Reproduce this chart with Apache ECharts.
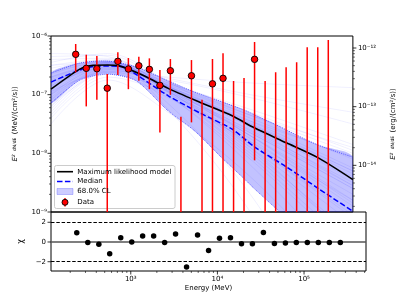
<!DOCTYPE html>
<html><head><meta charset="utf-8">
<script src="https://cdn.jsdelivr.net/npm/echarts@6/dist/echarts.min.js"></script>
<style>html,body{margin:0;padding:0;background:#fff}#c{width:407px;height:305px}</style>
</head><body><div id="c"></div>
<script>
// ---------- data ----------
const energies = [238, 319, 428, 571, 766, 1026, 1371, 1837, 2460, 3289, 4406, 5902, 7907, 10570, 14160, 18970, 25350, 33960, 45500, 60950, 81470, 109100, 146200, 195900, 262400];
// flux points (null = no point drawn, only the bar)
const flux = [4.87e-7, 2.81e-7, 2.77e-7, 1.29e-7, 3.70e-7, 2.74e-7, 3.11e-7, 2.70e-7, 1.44e-7, 2.56e-7, null, 2.10e-7, null, 1.53e-7, 1.90e-7, null, null, 4.0e-7, null, null, null, null, null, null, null];
const fluxHigh = [7.3e-7, 4.80e-7, 4.56e-7, 2.24e-7, 5.27e-7, 4.21e-7, 4.44e-7, 4.16e-7, 2.63e-7, 4.05e-7, 4.19e-8, 3.89e-7, 8.17e-8, 4.05e-7, 5.07e-7, 1.71e-7, 1.92e-7, 7.9e-7, 1.71e-7, 2.40e-7, 2.92e-7, 3.56e-7, 6.41e-7, 6.41e-7, 8.54e-7];
// 1e-12 = bar continues below the plotted range
const fluxLow = [2.40e-7, 6.31e-8, 8.17e-8, 1e-12, 2.16e-7, 1.24e-7, 1.73e-7, 1.24e-7, 2.27e-8, 9.95e-8, 1e-12, 3.37e-8, 1e-12, 1e-12, 1e-12, 1e-12, 1e-12, 7.6e-9, 1e-12, 1e-12, 1e-12, 1e-12, 1e-12, 1e-12, 1e-12];
const residuals = [0.93, -0.05, -0.22, -1.2, 0.42, 0.0, 0.6, 0.6, -0.05, 0.8, -2.53, 0.7, -0.86, 0.39, 0.42, -0.19, -0.19, 0.97, -0.15, -0.09, -0.05, -0.05, -0.05, -0.05, -0.05];

// maximum likelihood model
const mlE = [120, 267, 387, 577, 773, 1585, 3097, 7534, 18240, 33810, 82220, 199100, 519000];
const mlF = [1.24e-7, 2.73e-7, 3.16e-7, 3.20e-7, 3.13e-7, 2.10e-7, 1.28e-7, 7.38e-8, 4.36e-8, 2.72e-8, 1.51e-8, 8.36e-9, 3.57e-9];
// median
const medE = [120, 267, 447, 859, 1280, 3097, 7534, 18240, 33810, 82220, 199100, 519000];
const medF = [1.64e-7, 2.63e-7, 3.08e-7, 3.02e-7, 2.2e-7, 9.57e-8, 4.84e-8, 2.58e-8, 1.29e-8, 5.86e-9, 2.51e-9, 1.03e-9];
// 68% CL band
const bandE = [120, 267, 577, 1280, 3080, 6300, 14000, 25800, 33600, 68700, 83000, 199000, 519000];
const bandHi = [2.33e-7, 3.46e-7, 3.74e-7, 2.96e-7, 1.73e-7, 1.12e-7, 7.47e-8, 5.45e-8, 4.57e-8, 2.85e-8, 2.48e-8, 1.38e-8, 8.59e-9];
const bandLo = [7.18e-8, 1.77e-7, 2.24e-7, 1.71e-7, 5.31e-8, 2.48e-8, 8.16e-9, 3.62e-9, 2.51e-9, 1.0e-9, 8.13e-10, 3.56e-10, 1.38e-10];
// thin sample curves: log10 flux at sampleE
const sampleE = [120, 577, 3080, 30200, 519000];
const sampleLogFlux = [
 [-6.70,-6.45,-6.85,-7.50,-8.30],[-6.95,-6.50,-6.90,-7.70,-8.80],[-6.60,-6.42,-6.95,-7.90,-9.20],
 [-7.10,-6.55,-6.80,-7.30,-7.95],[-6.85,-6.47,-6.92,-7.80,-9.00],[-6.50,-6.40,-6.88,-7.75,-8.90],
 [-7.25,-6.58,-6.84,-7.40,-8.10],[-6.75,-6.46,-6.97,-8.05,-9.60],[-6.98,-6.52,-6.86,-7.45,-8.25],
 [-6.40,-6.38,-6.93,-7.95,-9.40],[-7.05,-6.53,-6.83,-7.35,-7.90],[-6.80,-6.44,-6.90,-7.65,-8.60],
 [-7.30,-6.60,-6.95,-7.60,-8.50],[-6.65,-6.43,-7.00,-8.20,-10.0],[-6.90,-6.49,-6.87,-7.55,-8.40],
 [-6.30,-6.35,-6.90,-7.90,-9.50],[-7.15,-6.56,-6.82,-7.25,-7.85],[-6.88,-6.48,-6.94,-7.85,-9.10],
 [-6.72,-6.47,-6.91,-7.70,-8.70],[-7.00,-6.51,-6.88,-7.50,-8.35],[-6.55,-6.41,-6.96,-8.00,-9.45],
 [-7.20,-6.57,-6.86,-7.48,-8.30],[-6.82,-6.46,-6.89,-7.62,-8.55],[-6.95,-6.62,-7.05,-7.80,-8.80],
 [-6.45,-6.30,-6.78,-7.55,-8.55],[-7.35,-6.65,-6.92,-7.45,-8.05],[-6.78,-6.50,-7.02,-8.10,-9.70],
 [-6.92,-6.45,-6.80,-7.35,-8.00],[-6.62,-6.44,-6.94,-7.85,-9.05],[-7.08,-6.54,-6.87,-7.52,-8.45],
 [-6.35,-6.33,-6.85,-7.70,-8.85],[-7.40,-6.70,-7.00,-7.65,-8.60],[-7.00,-6.60,-6.70,-6.80,-6.88],
 [-6.85,-6.52,-6.72,-7.00,-7.30],[-7.20,-6.62,-6.75,-7.05,-7.50],[-6.70,-6.48,-7.15,-8.70,-11.5],
 [-6.50,-6.45,-7.25,-9.00,-12.0],[-7.50,-6.75,-7.30,-8.40,-10.2]
];
// axis ranges & ticks
const xMin = 120, xMax = 519000;
const yMin = 1e-9, yMax = 1e-6;
const MEV_TO_ERG = 1.602176634e-6;
const chiMin = -2.94, chiMax = 3.04;
const xMajorTicks = [1000, 10000, 100000];
const xMinorTicks = [200,300,400,500,600,700,800,900,2000,3000,4000,5000,6000,7000,8000,9000,20000,30000,40000,50000,60000,70000,80000,90000,200000,300000,400000,500000];
const yMajorTicks = [1e-9, 1e-8, 1e-7, 1e-6];
const yMinorTicks = [2e-9,3e-9,4e-9,5e-9,6e-9,7e-9,8e-9,9e-9,2e-8,3e-8,4e-8,5e-8,6e-8,7e-8,8e-8,9e-8,2e-7,3e-7,4e-7,5e-7,6e-7,7e-7,8e-7,9e-7];
const ergMajorTicks = [1e-14, 1e-13, 1e-12];
const ergMinorTicks = [2e-15,3e-15,4e-15,5e-15,6e-15,7e-15,8e-15,9e-15,2e-14,3e-14,4e-14,5e-14,6e-14,7e-14,8e-14,9e-14,2e-13,3e-13,4e-13,5e-13,6e-13,7e-13,8e-13,9e-13];
const chiTicks = [-2, 0, 2];

// ---------- chart ----------
const FONT = 'DejaVu Sans';
const SUP = '⁰¹²³⁴⁵⁶⁷⁸⁹';
function sup(n){ return String(n).replace(/-/g,'⁻').replace(/\d/g, d => SUP[+d]); }
function logFmt(v){ return '10' + sup(Math.round(Math.log10(v))); }
const labelStyle = {fontFamily: FONT, fontSize: 7, color: '#000'};

const chart = echarts.init(document.getElementById('c'), null, {renderer: 'canvas'});

const series = [];
sampleLogFlux.forEach((row) => {
  series.push({type:'line', xAxisIndex:0, yAxisIndex:0, silent:true, z:1,
    data: sampleE.map((e,i)=>[e, Math.pow(10, row[i])]), showSymbol:false, smooth:0.35,
    lineStyle:{color:'rgba(0,0,255,0.11)', width:0.6}});
});
// 68% CL band as a polygon between the upper and lower bounds
series.push({type:'custom', name:'68.0% CL', xAxisIndex:0, yAxisIndex:0, silent:true, z:2, clip:true,
  data: bandE.map((e,i)=>[e, bandLo[i], bandHi[i]]),
  renderItem(params, api){
    if (params.dataIndex !== 0) return null;
    const up = bandE.map((e,i)=>api.coord([e, bandHi[i]]));
    const lo = bandE.map((e,i)=>api.coord([e, bandLo[i]]));
    const poly = up.concat(lo.slice().reverse());
    return {type:'group', children:[
      {type:'polygon', shape:{points:poly, smooth:0.25}, style:{fill:'rgba(0,0,255,0.24)'}},
      {type:'polyline', shape:{points:up, smooth:0.25}, style:{stroke:'rgba(0,0,255,0.7)', lineWidth:0.8, lineDash:[1,1], fill:null}},
      {type:'polyline', shape:{points:lo, smooth:0.25}, style:{stroke:'rgba(0,0,255,0.7)', lineWidth:0.8, lineDash:[1,1], fill:null}}
    ]};
  }});
series.push({type:'line', name:'Median', xAxisIndex:0, yAxisIndex:0, silent:true, z:3,
  data: medE.map((e,i)=>[e, medF[i]]), showSymbol:false, smooth:0.25,
  lineStyle:{color:'#0000ff', width:1.5, type:[5.5,2.4]}});
series.push({type:'line', name:'Maximum likelihood model', xAxisIndex:0, yAxisIndex:0, silent:true, z:4,
  data: mlE.map((e,i)=>[e, mlF[i]]), showSymbol:false, smooth:0.25,
  lineStyle:{color:'#000', width:1.6}});
// error bars
series.push({type:'custom', xAxisIndex:0, yAxisIndex:0, silent:true, z:5, clip:true,
  data: energies.map((e,i)=>[e, fluxLow[i], fluxHigh[i]]),
  renderItem(params, api){
    const p1 = api.coord([api.value(0), api.value(1)]);
    const p2 = api.coord([api.value(0), api.value(2)]);
    return {type:'line', shape:{x1:p1[0], y1:p1[1], x2:p2[0], y2:p2[1]}, style:{stroke:'#ff0000', lineWidth:1.5}};
  }});
series.push({type:'scatter', name:'Data', xAxisIndex:0, yAxisIndex:0, silent:true, z:6,
  data: energies.map((e,i)=>[e, flux[i]]).filter(d => d[1] !== null),
  symbol:'circle', symbolSize:6.5, itemStyle:{color:'#ff0000', borderColor:'#000', borderWidth:0.9, opacity:1}});
// residuals
series.push({type:'line', xAxisIndex:1, yAxisIndex:2, silent:true, z:1, data:[],
  markLine:{silent:true, symbol:'none', label:{show:false}, animation:false,
    data:[
      {yAxis:2, lineStyle:{type:[3.5,1.8], color:'#000', width:1}},
      {yAxis:-2, lineStyle:{type:[3.5,1.8], color:'#000', width:1}},
      {yAxis:0, lineStyle:{type:'solid', color:'#555', width:1.5}}
    ]}});
series.push({type:'scatter', xAxisIndex:1, yAxisIndex:2, silent:true, z:5,
  data: energies.map((e,i)=>[e, residuals[i]]), symbolSize:5.5, itemStyle:{color:'#000', opacity:1}});

// tick marks (matplotlib style, outward)
function tickSeries(xIdx, yIdx, items, side){
  return {type:'custom', xAxisIndex:xIdx, yAxisIndex:yIdx, silent:true, clip:false, z:10,
    data: items,
    renderItem(params, api){
      const cs = params.coordSys;
      const major = api.value(2) === 1;
      const len = major ? 3.5 : 2;
      const lw = major ? 0.8 : 0.6;
      let shape;
      if (side === 'bottom') {
        const x = api.coord([api.value(0), api.value(1)])[0];
        const y = cs.y + cs.height;
        shape = {x1:x, y1:y, x2:x, y2:y+len};
      } else if (side === 'left') {
        const y = api.coord([api.value(0), api.value(1)])[1];
        shape = {x1:cs.x-len, y1:y, x2:cs.x, y2:y};
      } else {
        const y = api.coord([api.value(0), api.value(1)])[1];
        const x = cs.x + cs.width;
        shape = {x1:x, y1:y, x2:x+len, y2:y};
      }
      return {type:'line', shape, style:{stroke:'#000', lineWidth:lw}};
    }};
}
series.push(tickSeries(1, 2, xMajorTicks.map(v=>[v,0,1]).concat(xMinorTicks.map(v=>[v,0,0])), 'bottom'));
series.push(tickSeries(0, 0, yMajorTicks.map(v=>[1000,v,1]).concat(yMinorTicks.map(v=>[1000,v,0])), 'left'));
series.push(tickSeries(0, 1, ergMajorTicks.map(v=>[1000,v,1]).concat(ergMinorTicks.map(v=>[1000,v,0])), 'right'));
series.push(tickSeries(1, 2, chiTicks.map(v=>[1000,v,1]), 'left'));

const yNameRich = {i:{fontFamily:FONT, fontSize:7, fontStyle:'italic', color:'#000'}, f:{fontFamily:FONT, fontSize:4.5, color:'#000'}, t:{fontFamily:FONT, fontSize:7, color:'#000'}};

const option = {
  animation:false,
  backgroundColor:'#fff',
  grid:[
    {left:51, top:36, width:315, height:176, show:true, borderColor:'#000', borderWidth:1, backgroundColor:'transparent'},
    {left:51, top:212, width:315, height:59, show:true, borderColor:'#000', borderWidth:1, backgroundColor:'transparent'}
  ],
  xAxis:[
    {gridIndex:0, type:'log', min:xMin, max:xMax, axisLine:{show:false}, axisTick:{show:false}, axisLabel:{show:false}, splitLine:{show:false}},
    {gridIndex:1, type:'log', min:xMin, max:xMax, axisLine:{show:false}, axisTick:{show:false}, splitLine:{show:false},
      axisLabel:Object.assign({formatter:logFmt, showMinLabel:false, showMaxLabel:false, margin:5}, labelStyle),
      name:'Energy (MeV)', nameLocation:'middle', nameGap:14, nameTextStyle:labelStyle}
  ],
  yAxis:[
    {gridIndex:0, type:'log', min:yMin, max:yMax, position:'left', axisLine:{show:false}, axisTick:{show:false}, splitLine:{show:false},
      axisLabel:Object.assign({formatter:logFmt, margin:4}, labelStyle),
      name:'{i|E²} {f|dN/dE} {t|(MeV/(cm²/s))}', nameLocation:'middle', nameGap:29, nameTextStyle:{rich:yNameRich}},
    {gridIndex:0, type:'log', min:yMin*MEV_TO_ERG, max:yMax*MEV_TO_ERG, position:'right', axisLine:{show:false}, axisTick:{show:false}, splitLine:{show:false},
      axisLabel:Object.assign({formatter:logFmt, showMinLabel:false, showMaxLabel:false, margin:5}, labelStyle),
      name:'{i|E²} {f|dN/dE} {t|(erg/(cm²/s))}', nameLocation:'middle', nameGap:28, nameTextStyle:{rich:yNameRich}},
    {gridIndex:1, type:'value', min:chiMin, max:chiMax, splitNumber:3, axisLine:{show:false}, axisTick:{show:false}, splitLine:{show:false},
      axisLabel:Object.assign({margin:5, showMinLabel:false, showMaxLabel:false,
        formatter: v => (chiTicks.indexOf(v) >= 0 ? String(v).replace('-', '−') : '')}, labelStyle),
      name:'χ', nameLocation:'middle', nameGap:19, nameTextStyle:Object.assign({}, labelStyle, {fontSize:8})}
  ],
  graphic:{elements:[
    {type:'rect', z:4, shape:{x:54.5, y:165.5, width:120.5, height:43, r:2}, style:{fill:'rgba(255,255,255,0.8)', stroke:'#cccccc', lineWidth:1}},
    {type:'line', z:20, shape:{x1:57, y1:171.7, x2:73, y2:171.7}, style:{stroke:'#000', lineWidth:1.6}},
    {type:'text', z:20, x:77.3, y:171.7, style:{text:'Maximum likelihood model', fontFamily:FONT, fontSize:7, fill:'#000', verticalAlign:'middle'}},
    {type:'line', z:20, shape:{x1:57, y1:181.5, x2:73, y2:181.5}, style:{stroke:'#0000ff', lineWidth:1.5, lineDash:[5.5,2.4]}},
    {type:'text', z:20, x:77.3, y:181.5, style:{text:'Median', fontFamily:FONT, fontSize:7, fill:'#000', verticalAlign:'middle'}},
    {type:'rect', z:20, shape:{x:57, y:188.5, width:16, height:6}, style:{fill:'rgba(0,0,255,0.2)', stroke:'rgba(0,0,255,0.35)', lineWidth:0.6}},
    {type:'text', z:20, x:77.3, y:191.5, style:{text:'68.0% CL', fontFamily:FONT, fontSize:7, fill:'#000', verticalAlign:'middle'}},
    {type:'line', z:20, shape:{x1:65, y1:198, x2:65, y2:206.5}, style:{stroke:'#ff0000', lineWidth:1.5}},
    {type:'circle', z:21, shape:{cx:65, cy:202.3, r:3}, style:{fill:'#ff0000', stroke:'#000', lineWidth:0.9}},
    {type:'text', z:20, x:77.3, y:202.3, style:{text:'Data', fontFamily:FONT, fontSize:7, fill:'#000', verticalAlign:'middle'}}
  ]},
  series
};
chart.setOption(option);
</script></body></html>
